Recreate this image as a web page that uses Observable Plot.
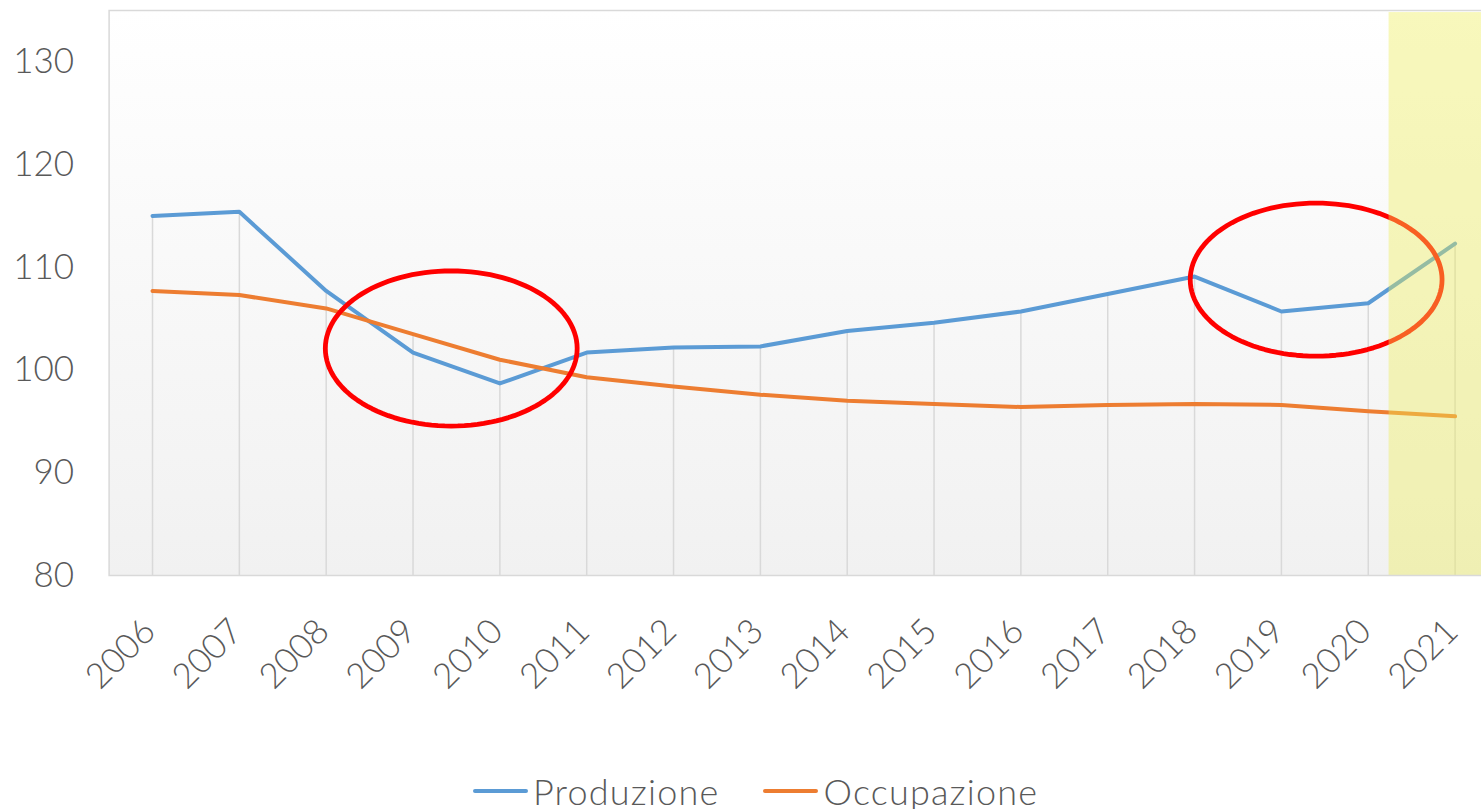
<!DOCTYPE html>
<html>
<head>
<meta charset="utf-8">
<script src="https://cdn.jsdelivr.net/npm/d3@7"></script>
<script src="https://cdn.jsdelivr.net/npm/@observablehq/plot@0.6"></script>
<style>
  html, body { margin: 0; padding: 0; background: #fff; overflow: hidden; width: 1481px; height: 809px; }
  #chart { position: absolute; left: 0; top: 0; width: 1498px; }
  #legend { position: absolute; left: 473px; top: 769px; height: 44px; display: flex; align-items: center;
            font-family: Lato, "Open Sans", sans-serif; font-weight: 300; font-size: 36px; letter-spacing: 1.2px; color: #595959; }
  .item { display: flex; align-items: center; margin-right: 44px; }
  .swatch { width: 55px; height: 4px; border-radius: 2px; margin-right: 5px; }
</style>
</head>
<body>
<div id="chart"></div>
<div id="legend"></div>
<script>
const years = [2006, 2007, 2008, 2009, 2010, 2011, 2012, 2013, 2014, 2015, 2016, 2017, 2018, 2019, 2020, 2021];
const produzione = [115.0, 115.4, 107.7, 101.7, 98.7, 101.7, 102.2, 102.3, 103.8, 104.6, 105.7, 107.4, 109.1, 105.7, 106.5, 112.3];
const occupazione = [107.7, 107.3, 106.0, 103.5, 101.0, 99.3, 98.4, 97.6, 97.0, 96.7, 96.4, 96.6, 96.7, 96.6, 96.0, 95.5];
const seriesNames = ["Produzione", "Occupazione"];
const seriesColors = ["#5b9bd5", "#ed7d31"];
const yTicks = [80, 90, 100, 110, 120, 130];
// annotation ellipses: centre (year, value) and radii (years, index points)
const highlightX = [2009.44, 2019.40];
const highlightY = [102.1, 108.8];
const highlightRx = [1.45, 1.45];
const highlightRy = [7.55, 7.45];
// forecast band (yellow) start
const forecastStart = 2020.24;

const rows = [];
years.forEach((yr, i) => {
  rows.push({year: yr, value: produzione[i], serie: seriesNames[0]});
  rows.push({year: yr, value: occupazione[i], serie: seriesNames[1]});
});
const drops = years.map((yr, i) => ({year: yr, top: Math.max(produzione[i], occupazione[i])}));

const ellipsePts = [];
highlightX.forEach((cx, k) => {
  for (let j = 0; j <= 120; j++) {
    const t = (j / 120) * 2 * Math.PI;
    ellipsePts.push({id: k, x: cx + highlightRx[k] * Math.cos(t), y: highlightY[k] + highlightRy[k] * Math.sin(t)});
  }
});

const defsMark = () => {
  const defs = d3.create("svg:defs");
  const g = defs.append("linearGradient").attr("id", "bgGrad").attr("x1", 0).attr("y1", 0).attr("x2", 0).attr("y2", 1);
  g.append("stop").attr("offset", "0%").attr("stop-color", "#ffffff");
  g.append("stop").attr("offset", "100%").attr("stop-color", "#f1f1f1");
  return defs.node();
};

const chart = Plot.plot({
  width: 1498,
  height: 770,
  marginLeft: 108.6,
  marginRight: 0,
  marginTop: 10,
  marginBottom: 195,
  style: {fontFamily: "Lato, 'Open Sans', sans-serif", fontWeight: 300, color: "#595959", background: "transparent", maxWidth: "none"},
  x: {domain: [2005.5, 2021.5], label: null},
  y: {domain: [80, 135], label: null},
  color: {domain: seriesNames, range: seriesColors},
  marks: [
    defsMark,
    Plot.frame({fill: "url(#bgGrad)", stroke: "none"}),
    Plot.ruleX(drops, {x: "year", y1: 80, y2: "top", stroke: "#d9d9d9", strokeWidth: 1.5}),
    Plot.line(rows, {x: "year", y: "value", z: "serie", stroke: "serie", strokeWidth: 4, strokeLinejoin: "round", strokeLinecap: "round"}),
    Plot.line(ellipsePts, {x: "x", y: "y", z: "id", stroke: "#ff0000", strokeWidth: 4.8, curve: "linear"}),
    Plot.rect([{x1: forecastStart, x2: 2021.5, y1: 80, y2: 134.8}], {x1: "x1", x2: "x2", y1: "y1", y2: "y2", fill: "#eeee58", fillOpacity: 0.4}),
    Plot.frame({stroke: "#d9d9d9", strokeWidth: 1.5}),
    Plot.axisY({ticks: yTicks, tickSize: 0, tickPadding: 35, fontSize: 35, fill: "#595959", label: null}),
    Plot.axisX({ticks: years, tickFormat: d => String(d), tickSize: 0, tickPadding: 50, tickRotate: -45,
                textAnchor: "end", lineAnchor: "middle", dx: -3, fontSize: 35, fill: "#595959", label: null})
  ]
});
document.getElementById("chart").appendChild(chart);

const legend = document.getElementById("legend");
seriesNames.forEach((name, i) => {
  const item = document.createElement("div");
  item.className = "item";
  const sw = document.createElement("div");
  sw.className = "swatch";
  sw.style.background = seriesColors[i];
  const tx = document.createElement("span");
  tx.textContent = name;
  item.appendChild(sw);
  item.appendChild(tx);
  legend.appendChild(item);
});
</script>
</body>
</html>
